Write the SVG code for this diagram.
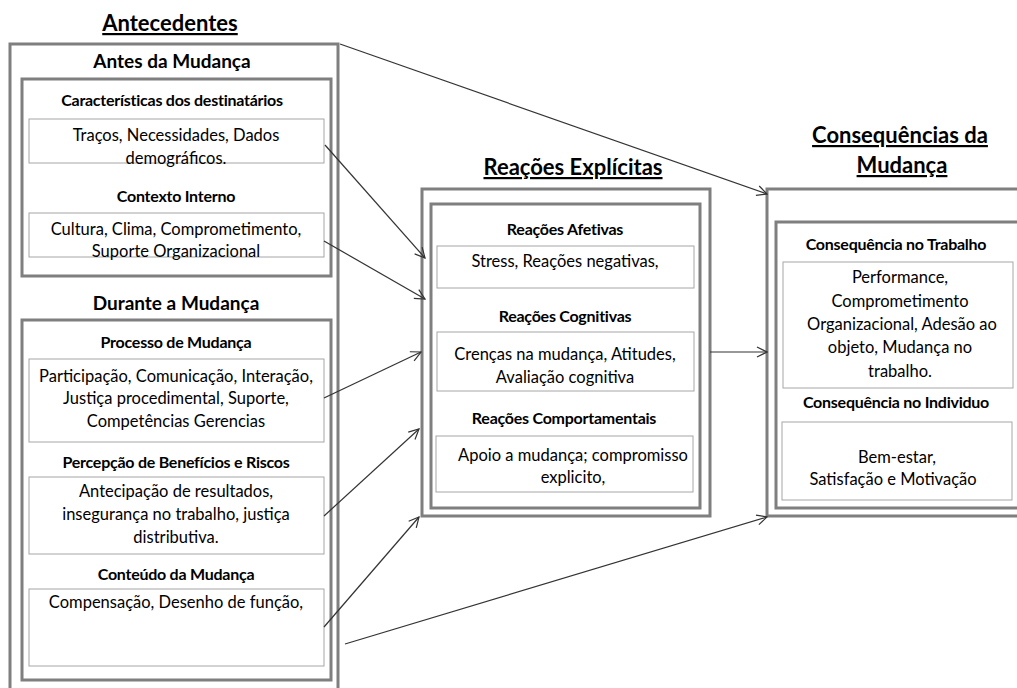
<svg xmlns="http://www.w3.org/2000/svg" width="1017" height="688" viewBox="0 0 1017 688">
  <defs>
    <marker id="arrow" viewBox="0 0 12 12" refX="11" refY="6" markerWidth="12" markerHeight="12" markerUnits="userSpaceOnUse" orient="auto">
      <path d="M1,1 L11,6 L1,11" fill="none" stroke="#333" stroke-width="1.2"/>
    </marker>
  </defs>
  <style>
    text { font-family: Lato, "Liberation Sans", sans-serif; fill: #000; text-anchor: middle; }
    .title { font-size: 22px; font-weight: bold; text-decoration: underline; }
    .section { font-size: 19px; font-weight: bold; }
    .head { font-size: 16px; font-weight: bold; letter-spacing: -0.25px; }
    .body { font-size: 16.5px; }
    .frame { fill: none; stroke: #7f7f7f; stroke-width: 3; }
    .item { fill: #fff; stroke: #a6a6a6; stroke-width: 1; }
    .link { fill: none; stroke: #333; stroke-width: 1.2; marker-end: url(#arrow); }
  </style>
  <rect width="1017" height="688" fill="#fff"/>

  <!-- Antecedentes -->
  <g id="antecedentes">
    <text class="title" x="170" y="31">Antecedentes</text>
    <rect class="frame" x="10" y="44" width="328" height="660"/>
  </g>

  <g id="antes-da-mudanca">
    <text class="section" x="172" y="68">Antes da Mudança</text>
    <rect class="frame" x="22" y="79" width="309" height="197"/>
    <text class="head" x="172" y="106">Características dos destinatários</text>
    <rect class="item" x="29" y="119" width="295" height="44"/>
    <text class="body" x="176" y="141">Traços, Necessidades, Dados</text>
    <text class="body" x="176" y="164">demográficos.</text>
    <text class="head" x="176" y="202">Contexto Interno</text>
    <rect class="item" x="29" y="213" width="295" height="44"/>
    <text class="body" x="176" y="235">Cultura, Clima, Comprometimento,</text>
    <text class="body" x="176" y="257">Suporte Organizacional</text>
  </g>

  <g id="durante-a-mudanca">
    <text class="section" x="176" y="310">Durante a Mudança</text>
    <rect class="frame" x="22" y="320" width="309" height="360"/>
    <text class="head" x="176" y="348">Processo de Mudança</text>
    <rect class="item" x="29" y="359" width="295" height="83"/>
    <text class="body" x="176" y="382">Participação, Comunicação,  Interação,</text>
    <text class="body" x="176" y="404">Justiça procedimental, Suporte,</text>
    <text class="body" x="176" y="427">Competências Gerencias</text>
    <text class="head" x="176" y="468">Percepção de Benefícios e Riscos</text>
    <rect class="item" x="29" y="477" width="295" height="77"/>
    <text class="body" x="176" y="497">Antecipação de resultados,</text>
    <text class="body" x="176" y="520">insegurança no trabalho, justiça</text>
    <text class="body" x="176" y="543">distributiva.</text>
    <text class="head" x="176" y="580">Conteúdo da Mudança</text>
    <rect class="item" x="29" y="589" width="295" height="77"/>
    <text class="body" x="176" y="608">Compensação, Desenho de função,</text>
  </g>

  <!-- Reações Explícitas -->
  <g id="reacoes-explicitas">
    <text class="title" x="573" y="175">Reações Explícitas</text>
    <rect class="frame" x="422" y="189" width="288" height="327"/>
    <rect class="frame" x="431" y="204" width="269" height="304"/>
    <text class="head" x="565" y="235">Reações Afetivas</text>
    <rect class="item" x="437" y="246" width="257" height="42"/>
    <text class="body" x="565" y="267">Stress, Reações negativas,</text>
    <text class="head" x="565" y="322">Reações Cognitivas</text>
    <rect class="item" x="437" y="332" width="257" height="59"/>
    <text class="body" x="565" y="360">Crenças na mudança, Atitudes,</text>
    <text class="body" x="565" y="383">Avaliação cognitiva</text>
    <text class="head" x="564" y="424">Reações Comportamentais</text>
    <rect class="item" x="436" y="436" width="257" height="56"/>
    <text class="body" x="573" y="461">Apoio a mudança; compromisso</text>
    <text class="body" x="573" y="483">explicito,</text>
  </g>

  <!-- Consequências da Mudança -->
  <g id="consequencias">
    <text class="title" x="900" y="143">Consequências da</text>
    <text class="title" x="902" y="173">Mudança</text>
    <rect class="frame" x="767" y="189" width="262" height="327"/>
    <rect class="frame" x="776" y="222" width="252" height="286"/>
    <text class="head" x="896" y="250">Consequência no Trabalho</text>
    <rect class="item" x="783" y="262" width="230" height="126"/>
    <text class="body" x="900" y="283">Performance,</text>
    <text class="body" x="900" y="307">Comprometimento</text>
    <text class="body" x="902" y="330">Organizacional, Adesão ao</text>
    <text class="body" x="900" y="353">objeto, Mudança no</text>
    <text class="body" x="900" y="377">trabalho.</text>
    <text class="head" x="896" y="408">Consequência no Individuo</text>
    <rect class="item" x="782" y="422" width="230" height="78"/>
    <text class="body" x="897" y="463">Bem-estar,</text>
    <text class="body" x="893" y="485">Satisfação e Motivação</text>
  </g>

  <!-- Connectors -->
  <g id="connectors">
    <line class="link" x1="325" y1="145" x2="425" y2="258"/>
    <line class="link" x1="324" y1="241" x2="425" y2="299"/>
    <line class="link" x1="324" y1="398" x2="421" y2="352"/>
    <line class="link" x1="324" y1="516" x2="419" y2="429"/>
    <line class="link" x1="324" y1="627" x2="419" y2="517"/>
    <line class="link" x1="345" y1="644" x2="767" y2="517"/>
    <line class="link" x1="340" y1="44" x2="767" y2="194"/>
    <line class="link" x1="710" y1="352" x2="767" y2="352"/>
  </g>
</svg>
